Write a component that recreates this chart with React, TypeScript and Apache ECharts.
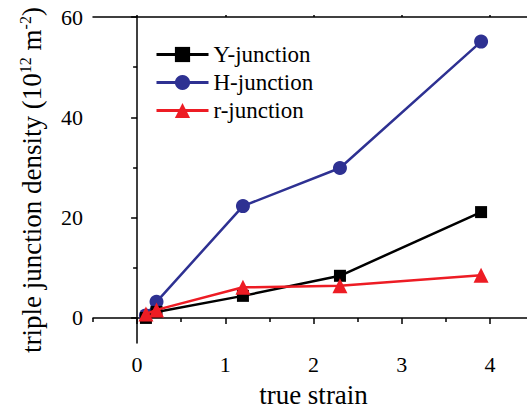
import React, { useEffect, useRef } from "react";
import * as echarts from "echarts";

const strain = [0.1, 0.22, 1.2, 2.3, 3.9];
const yJunction = [0.0, 1.2, 4.4, 8.4, 21.1];
const hJunction = [0.5, 3.2, 22.3, 29.9, 55.1];
const rJunction = [0.8, 1.6, 6.1, 6.4, 8.5];
const seriesNames = ["Y-junction", "H-junction", "r-junction"];
const xMajorTicks = [0, 1, 2, 3, 4];
const xMinorTicks = [-0.5, 0.5, 1.5, 2.5, 3.5, 4.5];
const yMajorTicks = [0, 20, 40, 60];
const yMinorTicks = [10, 30, 50];

const FONT = "Liberation Serif";

export default function App() {
  const ref = useRef<HTMLDivElement>(null);
  useEffect(() => {
    document.body.style.margin = "0";
    const chart = echarts.init(ref.current!, null, { renderer: "svg" });
    const pairs = (ys: number[]) => strain.map((x, i) => [x, ys[i]]);
    const axisLine = { show: true, lineStyle: { color: "#000", width: 1.5 } };
    const tickStyle = { color: "#000", width: 1.5 };
    chart.setOption({
      animation: false,
      backgroundColor: "#fff",
      grid: { left: 93, top: 17, width: 441, height: 326, outerBoundsMode: "none" },
      legend: {
        orient: "vertical",
        left: 155,
        top: 43,
        padding: 0,
        itemWidth: 52,
        itemHeight: 19,
        itemGap: 5,
        data: seriesNames,
        lineStyle: { width: 3 },
        textStyle: { fontFamily: FONT, fontSize: 23, color: "#000" },
      },
      xAxis: [
        {
          type: "value",
          min: -0.5,
          max: 4.5,
          position: "bottom",
          name: "true strain",
          nameLocation: "middle",
          nameGap: 38,
          nameTextStyle: { fontFamily: FONT, fontSize: 27, color: "#000" },
          axisLine,
          splitLine: { show: false },
          axisTick: { show: true, inside: false, length: 6, customValues: xMajorTicks, lineStyle: tickStyle },
          axisLabel: { customValues: xMajorTicks, margin: 10, fontFamily: FONT, fontSize: 22, color: "#000" },
        },
        {
          type: "value",
          min: -0.5,
          max: 4.5,
          position: "bottom",
          axisLine: { show: false },
          splitLine: { show: false },
          axisTick: { show: true, inside: false, length: 4, customValues: xMinorTicks, lineStyle: tickStyle },
          axisLabel: { show: false },
        },
        {
          type: "value",
          min: -0.5,
          max: 4.5,
          position: "top",
          axisLine,
          splitLine: { show: false },
          axisTick: { show: true, inside: false, length: 2, customValues: xMajorTicks, lineStyle: tickStyle },
          axisLabel: { show: false },
        },
      ],
      yAxis: [
        {
          type: "value",
          min: -5,
          max: 60,
          position: "left",
          name: "{a|triple junction density (10}{s|12}{a| m}{s|-2}{a|)}",
          nameLocation: "middle",
          nameRotate: 90,
          nameGap: 46,
          nameTextStyle: {
            fontFamily: FONT,
            fontSize: 27,
            color: "#000",
            rich: {
              a: { fontFamily: FONT, fontSize: 27, color: "#000", lineHeight: 30 },
              s: { fontFamily: FONT, fontSize: 16, color: "#000", verticalAlign: "top", lineHeight: 30 },
            },
          },
          axisLine,
          splitLine: { show: false },
          axisTick: { show: true, inside: false, length: 6, customValues: yMajorTicks, lineStyle: tickStyle },
          axisLabel: { customValues: yMajorTicks, margin: 10, fontFamily: FONT, fontSize: 22, color: "#000" },
        },
        {
          type: "value",
          min: -5,
          max: 60,
          position: "left",
          axisLine: { show: false },
          splitLine: { show: false },
          axisTick: { show: true, inside: false, length: 4, customValues: yMinorTicks, lineStyle: tickStyle },
          axisLabel: { show: false },
        },
      ],
      series: [
        {
          name: seriesNames[0],
          type: "line",
          data: pairs(yJunction),
          symbol: "rect",
          symbolSize: 12,
          itemStyle: { color: "#000" },
          lineStyle: { color: "#000", width: 2.5 },
          z: 3,
        },
        {
          name: seriesNames[1],
          type: "line",
          data: pairs(hJunction),
          symbol: "circle",
          symbolSize: 14,
          itemStyle: { color: "#2e3192" },
          lineStyle: { color: "#2e3192", width: 2.5 },
          z: 2,
        },
        {
          name: seriesNames[2],
          type: "line",
          data: pairs(rJunction),
          symbol: "triangle",
          symbolSize: 15,
          itemStyle: { color: "#ed1c24" },
          lineStyle: { color: "#ed1c24", width: 2.5 },
          z: 4,
        },
      ],
    });
    return () => chart.dispose();
  }, []);
  return <div ref={ref} style={{ width: 527, height: 410 }} />;
}
